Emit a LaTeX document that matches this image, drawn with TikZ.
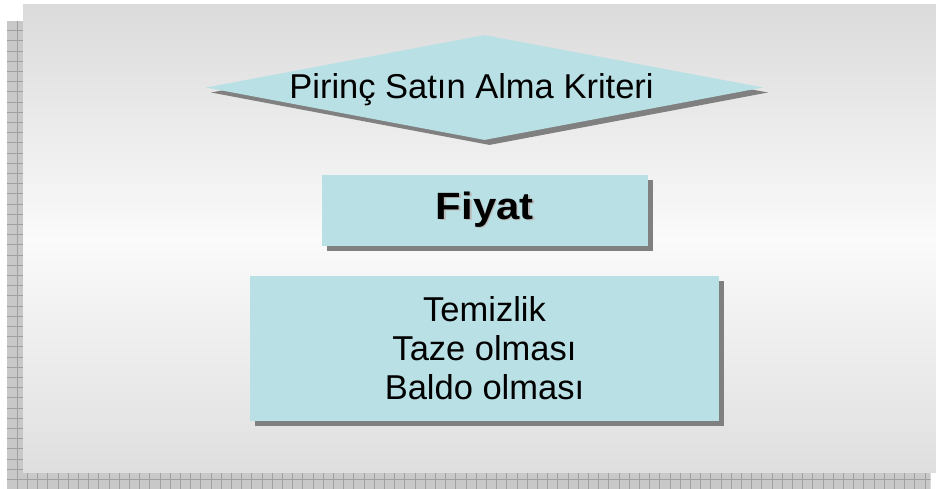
\documentclass[tikz,border=0pt]{standalone}
\usepackage{fontspec}
\setmainfont{Liberation Sans}
\usetikzlibrary{shapes.geometric,shadows,positioning}

\definecolor{boxfill}{RGB}{185,224,228}
\definecolor{boxshadow}{RGB}{128,128,128}
\definecolor{gridbg}{RGB}{200,200,200}
\definecolor{gridline}{RGB}{160,160,160}
\definecolor{paneltop}{RGB}{219,219,219}
\definecolor{panelmid}{RGB}{250,250,250}
\definecolor{panelbot}{RGB}{223,223,223}
\definecolor{textshade}{RGB}{185,185,185}

% bold heading with a soft shadow behind the letters
\newcommand{\shadedword}[1]{%
  \scalebox{1.1}[1]{\rlap{\hspace{1.5pt}\raisebox{-1.5pt}{\color{textshade}#1}}#1}}

\tikzset{
  gridrule/.style={draw=gridline, line width=0.9pt},
  critbox/.style={fill=boxfill, inner sep=0pt,
    drop shadow={shadow xshift=5pt, shadow yshift=-5pt, opacity=1, fill=boxshadow}},
  bigtext/.style={font=\fontsize{34.5}{39.3}\selectfont, align=center, inner sep=0pt}
}

\begin{document}
\begin{tikzpicture}[x=1pt, y=-1pt]
\useasboundingbox (0,0) rectangle (936,489);

% hatched shadow of the panel
\begin{scope}
  \clip (7,21) rectangle (930.7,489);
  \fill[gridbg] (7,21) rectangle (930.7,489);
  \foreach \i in {0,...,90}
    \draw[gridrule] ({17.3+10.2*\i},21) -- ++(0,468);
  \foreach \j in {0,...,45}
    \draw[gridrule] (7,{30.7+10.2*\j}) -- ++(924,0);
\end{scope}

% panel
\shade[top color=paneltop, bottom color=panelbot, middle color=panelmid]
  (23,5) rectangle (936,472.7);

% criterion diamond
\node[critbox, shape=diamond, minimum width=557pt, minimum height=105pt]
  (kriter) at (484.5,87.5) {};
\node[bigtext] (kriterText) at ([xshift=-13pt, yshift=-2pt]kriter.center)
  {Pirinç Satın Alma Kriteri};

% main criterion
\node[critbox, minimum width=326pt, minimum height=70.7pt,
      font=\fontsize{38}{44}\bfseries\selectfont]
  (fiyat) at (484.7,210.3) {\shadedword{Fiyat}};

% other criteria
\node[critbox, bigtext, minimum width=469pt, minimum height=144.7pt]
  (diger) at (484.5,348.3) {Temizlik\\Taze olması\\Baldo olması};
\end{tikzpicture}
\end{document}
